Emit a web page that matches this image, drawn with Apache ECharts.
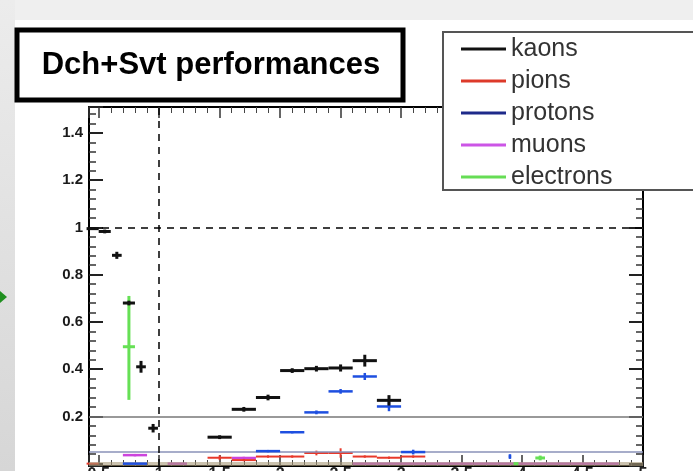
<!DOCTYPE html>
<html>
<head>
<meta charset="utf-8">
<script src="https://cdn.jsdelivr.net/npm/echarts@6/dist/echarts.min.js"></script>
<style>html,body{margin:0;padding:0;background:#fff}#c{width:693px;height:471px}</style>
</head>
<body>
<div id="c"></div>
<script>
// ---- data ----
const seriesNames = ['kaons', 'pions', 'protons', 'muons', 'electrons'];

const kaonX   = [0.45, 0.55, 0.65, 0.75, 0.85, 0.95, 1.5, 1.7, 1.9, 2.1, 2.3, 2.5, 2.7, 2.9];
const kaonY   = [0.995, 0.983, 0.882, 0.68, 0.41, 0.15, 0.112, 0.23, 0.28, 0.394, 0.402, 0.405, 0.436, 0.268];
const kaonXe  = [0.05, 0.05, 0.04, 0.05, 0.04, 0.04, 0.1, 0.1, 0.1, 0.1, 0.1, 0.1, 0.1, 0.1];
const kaonYe  = [0.005, 0.008, 0.015, 0.01, 0.025, 0.018, 0.008, 0.01, 0.012, 0.01, 0.012, 0.015, 0.025, 0.022];

const pionX   = [0.45, 1.5, 1.7, 1.9, 2.1, 2.3, 2.5, 2.7, 2.9, 3.1];
const pionY   = [0.0, 0.025, 0.015, 0.03, 0.03, 0.045, 0.045, 0.03, 0.025, 0.03];
const pionXe  = [0.05, 0.1, 0.1, 0.1, 0.1, 0.1, 0.1, 0.1, 0.1, 0.1];
const pionYe  = [0.0, 0.01, 0.005, 0.005, 0.005, 0.01, 0.02, 0.005, 0.005, 0.005];

const protonX  = [0.8, 1.9, 2.1, 2.3, 2.5, 2.7, 2.9, 3.1, 3.9];
const protonY  = [0.0, 0.053, 0.133, 0.217, 0.306, 0.369, 0.242, 0.049, 0.03];
const protonXe = [0.1, 0.1, 0.1, 0.1, 0.1, 0.1, 0.1, 0.1, 0.01];
const protonYe = [0.0, 0.005, 0.005, 0.008, 0.01, 0.015, 0.02, 0.01, 0.01];

const muonX  = [0.8, 1.15, 1.7, 2.7, 2.9, 3.1, 3.3, 3.5, 3.7, 3.9, 4.1, 4.3, 4.5, 4.7];
const muonY  = [0.036, 0.0, 0.024, 0, 0, 0, 0, 0, 0, 0, 0, 0, 0, 0];
const muonXe = [0.1, 0.08, 0.1, 0.1, 0.1, 0.1, 0.1, 0.1, 0.1, 0.1, 0.1, 0.1, 0.1, 0.1];
const muonYe = [0.005, 0, 0.005, 0, 0, 0, 0, 0, 0, 0, 0, 0, 0, 0];

const elecX   = [0.75, 3.95, 4.15];
const elecY   = [0.495, 0.0, 0.024];
const elecXe  = [0.05, 0.02, 0.04];
const elecYlo = [0.225, 0.0, 0.01];
const elecYhi = [0.215, 0.0, 0.01];

const refDashY = 1, refDashX = 1, refLineA = 0.2, refLineB = 0.053, baseBand = 0.004;

// ---- build ----
function rows(x, y, xe, ylo, yhi) {
  return x.map((v, i) => [v, y[i], xe[i], ylo[i], yhi[i]]);
}
function errRender(lw) {
  return function (params, api) {
    const x = api.value(0), y = api.value(1), xe = api.value(2), yl = api.value(3), yh = api.value(4);
    const pL = api.coord([x - xe, y]), pR = api.coord([x + xe, y]);
    const pB = api.coord([x, y - yl]), pT = api.coord([x, y + yh]);
    const style = { stroke: api.visual('color'), lineWidth: lw };
    const children = [{ type: 'line', shape: { x1: pL[0], y1: pL[1], x2: pR[0], y2: pR[1] }, style: style }];
    if (Math.abs(pT[1] - pB[1]) > 0.5) {
      children.push({ type: 'line', shape: { x1: pB[0], y1: pB[1], x2: pT[0], y2: pT[1] }, style: style });
    }
    return { type: 'group', children: children };
  };
}
function errSeries(name, color, lw, data, z) {
  return {
    name: name, type: 'custom', xAxisIndex: 0, yAxisIndex: 0,
    itemStyle: { color: color }, renderItem: errRender(lw),
    encode: { x: 0, y: 1 }, data: data, z: z, silent: true
  };
}

const chart = echarts.init(document.getElementById('c'), null, { renderer: 'canvas' });
const FONT = 'Liberation Sans, Arial, sans-serif';
const xAxisBase = {
  type: 'value', min: 0.42, max: 5, splitNumber: 9,
  axisLine: { show: true, onZero: false, lineStyle: { color: '#000', width: 2 } },
  axisTick: { show: true, inside: true, length: 11, lineStyle: { color: '#333', width: 1.5 } },
  minorTick: { show: true, splitNumber: 5, length: 6, lineStyle: { color: '#444', width: 1 } },
  splitLine: { show: false }
};
const yAxisBase = {
  type: 'value', min: -0.01, max: 1.51, splitNumber: 7,
  axisLine: { show: true, onZero: false, lineStyle: { color: '#000', width: 2 } },
  axisTick: { show: true, inside: true, length: 14, lineStyle: { color: '#222', width: 2 } },
  minorTick: { show: true, splitNumber: 5, length: 7, lineStyle: { color: '#333', width: 1.5 } },
  splitLine: { show: false }
};

chart.setOption({
  backgroundColor: '#ffffff',
  animation: false,
  grid: { left: 89, right: 50, top: 107, bottom: 5, containLabel: false, outerBoundsMode: 'none' },
  xAxis: [
    Object.assign({}, xAxisBase, {
      position: 'bottom',
      axisLabel: { show: true, margin: 1, fontSize: 16, fontWeight: 'bold', color: '#222', fontFamily: FONT,
                   showMinLabel: false, showMaxLabel: true }
    }),
    Object.assign({}, xAxisBase, { position: 'top', axisLabel: { show: false } })
  ],
  yAxis: [
    Object.assign({}, yAxisBase, {
      position: 'left',
      axisLabel: { show: true, margin: 6, fontSize: 15, fontWeight: 'bold', color: '#1a1a1a', fontFamily: FONT,
                   showMinLabel: false, showMaxLabel: false,
                   formatter: v => (Math.abs(v) < 1e-9 ? '' : String(Math.round(v * 10) / 10)) }
    }),
    Object.assign({}, yAxisBase, { position: 'right', axisLabel: { show: false } })
  ],
  legend: {
    orient: 'vertical', left: 456, top: 31, z: 20,
    itemWidth: 45, itemHeight: 3, itemGap: 6, icon: 'rect',
    textStyle: { fontSize: 25, lineHeight: 26, color: '#333', fontFamily: FONT },
    selectedMode: false,
    data: [
      { name: 'kaons', itemStyle: { color: '#111' } },
      { name: 'pions', itemStyle: { color: '#dd3a2a' } },
      { name: 'protons', itemStyle: { color: '#1e2a8a' } },
      { name: 'muons', itemStyle: { color: '#cc55e6' } },
      { name: 'electrons', itemStyle: { color: '#66dd55' } }
    ]
  },
  graphic: [
    { type: 'rect', z: 1, silent: true, shape: { x: 0, y: 0, width: 693, height: 20 }, style: { fill: '#efefef' } },
    { type: 'rect', z: 1, silent: true, shape: { x: 0, y: 0, width: 15, height: 471 },
      style: { fill: new echarts.graphic.LinearGradient(0, 0, 0, 1, [{ offset: 0, color: '#ececec' }, { offset: 1, color: '#d6d6d6' }]) } },
    { type: 'polygon', z: 2, silent: true, shape: { points: [[0, 291], [7, 297], [0, 303]] }, style: { fill: '#1f8f1f' } },
    { type: 'rect', z: 10, silent: true, shape: { x: 17, y: 30, width: 386, height: 70 },
      style: { fill: '#fff', stroke: '#000', lineWidth: 5 } },
    { type: 'text', z: 11, silent: true, x: 211, y: 65,
      style: { text: 'Dch+Svt performances', font: 'bold 31px ' + FONT, fill: '#000', align: 'center', verticalAlign: 'middle' } },
    { type: 'rect', z: 10, silent: true, shape: { x: 443, y: 32, width: 262, height: 158 },
      style: { fill: '#fff', stroke: '#555', lineWidth: 2 } }
  ],
  series: [
    {
      name: 'refs', type: 'line', data: [], xAxisIndex: 0, yAxisIndex: 0, silent: true, z: 1,
      markLine: {
        silent: true, symbol: 'none', label: { show: false },
        data: [
          { yAxis: baseBand, lineStyle: { color: '#a89a78', width: 4, type: 'solid', opacity: 0.6 } },
          { yAxis: refLineA, lineStyle: { color: '#777', width: 1.5, type: 'solid' } },
          { yAxis: refLineB, lineStyle: { color: '#8a92b8', width: 1.5, type: 'solid' } },
          { yAxis: refDashY, lineStyle: { color: '#000', width: 1.5, type: [7, 6] } },
          { xAxis: refDashX, lineStyle: { color: '#000', width: 1.5, type: [7, 6] } }
        ]
      }
    },
    errSeries('muons', '#cc44dd', 2.5, rows(muonX, muonY, muonXe, muonYe, muonYe), 3),
    errSeries('pions', '#e8382a', 2, rows(pionX, pionY, pionXe, pionYe, pionYe), 4),
    errSeries('protons', '#1e4fe0', 2.5, rows(protonX, protonY, protonXe, protonYe, protonYe), 5),
    errSeries('electrons', '#66e055', 3, rows(elecX, elecY, elecXe, elecYlo, elecYhi), 6),
    errSeries('kaons', '#111', 3, rows(kaonX, kaonY, kaonXe, kaonYe, kaonYe), 7)
  ]
});
</script>
</body>
</html>
